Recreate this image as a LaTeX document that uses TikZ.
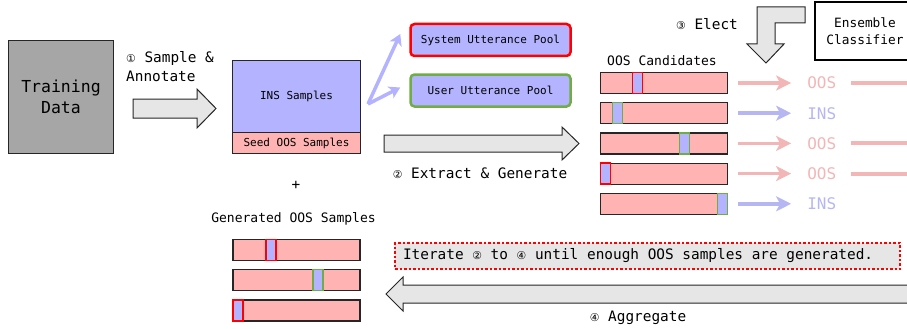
\documentclass[tikz,border=0pt]{standalone}
\usepackage{fontspec}
\setmainfont{DejaVu Sans Mono}
\newfontfamily\circfont[Scale=0.75]{DejaVu Sans}
\newcommand{\stepno}[1]{{\circfont #1}}
\usetikzlibrary{positioning, arrows.meta}
\definecolor{insblue}{RGB}{179,179,255}
\definecolor{oospink}{RGB}{255,179,179}
\definecolor{fadepink}{RGB}{242,182,182}
\definecolor{fadeblue}{RGB}{182,182,242}
\definecolor{arrowgray}{RGB}{230,230,230}
\definecolor{datagray}{RGB}{166,166,166}
\definecolor{poolgreen}{RGB}{112,173,71}
\definecolor{edgegray}{RGB}{38,38,38}
\tikzset{
    databox/.style={rectangle, draw=edgegray, fill=datagray, line width=1.5pt, minimum width=105pt, minimum height=113pt, align=center, font=\fontsize{16.5}{21}\selectfont},
    insbox/.style={rectangle, draw=edgegray, fill=insblue, line width=1.2pt, outer sep=0pt, minimum width=128pt, minimum height=72pt, font=\fontsize{11}{13}\selectfont},
    seedbox/.style={rectangle, draw=edgegray, fill=oospink, line width=1.2pt, outer sep=0pt, minimum width=128pt, minimum height=21pt, font=\fontsize{11}{13}\selectfont},
    poolbox/.style={rectangle, rounded corners=4pt, fill=insblue, line width=2.5pt, minimum width=160pt, minimum height=32pt, font=\fontsize{11}{13}\selectfont},
    ensbox/.style={rectangle, draw=black, fill=white, line width=2.5pt, minimum width=100pt, minimum height=58pt, align=center, font=\fontsize{12.8}{17}\selectfont},
    candbar/.style={rectangle, draw=edgegray, fill=oospink, line width=1.2pt, minimum width=127pt, minimum height=21pt, inner sep=0pt},
    slotbox/.style={rectangle, fill=insblue, line width=1.3pt, minimum width=10pt, minimum height=21pt, inner sep=0pt, anchor=west},
    blockarrow/.style={draw=edgegray, fill=arrowgray, line width=1pt, line join=miter},
    captiontext/.style={inner sep=1pt, font=\fontsize{13}{16}\selectfont},
    steptext/.style={inner sep=1pt, align=left, font=\fontsize{14.4}{19}\selectfont},
    verdicttext/.style={inner sep=2pt, font=\fontsize{16}{19}\selectfont},
    oosarrow/.style={draw=fadepink, line width=3.5pt, -{Stealth[length=15pt,width=15pt,inset=4pt]}, shorten <=10pt, shorten >=14pt},
    insarrow/.style={oosarrow, draw=fadeblue},
    trail/.style={draw=fadepink, line width=4pt, shorten <=13pt},
    poolarrow/.style={draw=insblue, line width=3.5pt, -{Stealth[length=11pt,width=13pt,inset=3pt]}},
    iterbox/.style={rectangle, draw=red, fill=arrowgray, line width=2.5pt, dash pattern=on 2.5pt off 2pt, text width=489pt, inner xsep=8pt, inner ysep=0pt, minimum height=26pt, align=left, execute at begin node={\spaceskip=0pt\xspaceskip=0pt}, font=\fontsize{14.4}{17}\selectfont},
}
\begin{document}
\begin{tikzpicture}[x=1pt, y=-1pt]
\useasboundingbox (0,0) rectangle (907,329);
\clip (0,0) rectangle (907,329);
\node[databox] (train) at (61,97) {Training\\Data};
\node[steptext, anchor=west] (annotate) at (125,67) {\stepno{①} Sample \&\\Annotate};
\draw[blockarrow] (133,99) -- (197,99) -- (197,89) -- (216,108.5) -- (197,128) -- (197,118) -- (133,118) -- cycle;
\node[insbox] (ins) at (296.5,96.5) {INS Samples};
\node[seedbox, below=0pt of ins] (seed) {Seed OOS Samples};
\node[steptext] (plus) at (296,185) {+};
\node[poolbox, draw=red] (sys) at (490.5,40) {System Utterance Pool};
\node[poolbox, draw=poolgreen, below=16pt of sys] (user) {User Utterance Pool};
\coordinate (fork) at (368,104);
\draw[poolarrow] (fork) -- ([xshift=-9pt,yshift=6pt]sys.west);
\draw[poolarrow] (fork) -- ([xshift=-9pt,yshift=3pt]user.west);
\draw[blockarrow] (384,135) -- (562,135) -- (562,127) -- (579,143.5) -- (562,160) -- (562,152) -- (384,152) -- cycle;
\node[steptext] (extract) at (480,173) {\stepno{②} Extract \& Generate};
\node[steptext] (elect) at (707,24) {\stepno{③} Elect};
\draw[blockarrow] (757,7) -- (805,7) -- (805,23) -- (775,23) -- (775,44) -- (784,44) -- (766,63) -- (747,44) -- (757,44) -- cycle;
\node[ensbox] (ens) at (865,31) {Ensemble\\Classifier};
\node[captiontext] (candlbl) at (662,61) {OOS Candidates};
\node[candbar] (c1) at (664,83) {};
\node[candbar, below=8pt of c1] (c2) {};
\node[candbar, below=8pt of c2] (c3) {};
\node[candbar, below=8pt of c3] (c4) {};
\node[candbar, below=8pt of c4] (c5) {};
\node[slotbox, draw=red] (s1) at ([xshift=32pt]c1.west) {};
\node[slotbox, draw=poolgreen] (s2) at ([xshift=12pt]c2.west) {};
\node[slotbox, draw=poolgreen] (s3) at ([xshift=79pt]c3.west) {};
\node[slotbox, draw=red] (s4) at (c4.west) {};
\node[slotbox, draw=poolgreen] (s5) at ([xshift=117pt]c5.west) {};
\node[verdicttext, text=fadepink, right=77pt of c1] (r1) {OOS};
\node[verdicttext, text=fadeblue, right=77pt of c2] (r2) {INS};
\node[verdicttext, text=fadepink, right=77pt of c3] (r3) {OOS};
\node[verdicttext, text=fadepink, right=77pt of c4] (r4) {OOS};
\node[verdicttext, text=fadeblue, right=77pt of c5] (r5) {INS};
\draw[oosarrow] (c1) -- (r1);
\draw[insarrow] (c2) -- (r2);
\draw[oosarrow] (c3) -- (r3);
\draw[oosarrow] (c4) -- (r4);
\draw[insarrow] (c5) -- (r5);
\coordinate[right=80pt of r1] (t1);
\coordinate[right=80pt of r3] (t3);
\coordinate[right=80pt of r4] (t4);
\draw[trail] (r1) -- (t1);
\draw[trail] (r3) -- (t3);
\draw[trail] (r4) -- (t4);
\node[captiontext] (genlbl) at (293.5,219) {Generated OOS Samples};
\node[candbar] (g1) at (296.5,250) {};
\node[candbar, below=8pt of g1] (g2) {};
\node[candbar, below=8pt of g2] (g3) {};
\node[slotbox, draw=red] (h1) at ([xshift=33pt]g1.west) {};
\node[slotbox, draw=poolgreen] (h2) at ([xshift=80pt]g2.west) {};
\node[slotbox, draw=red] (h3) at (g3.west) {};
\node[iterbox] (iter) at (647.5,256) {Iterate \stepno{②} to \stepno{④} until enough OOS samples are generated.};
\draw[blockarrow] (920,285) -- (403,285) -- (403,277) -- (386,294) -- (403,311) -- (403,303) -- (920,303) -- cycle;
\node[steptext] (aggregate) at (638,318) {\stepno{④} Aggregate};
\end{tikzpicture}
\end{document}
